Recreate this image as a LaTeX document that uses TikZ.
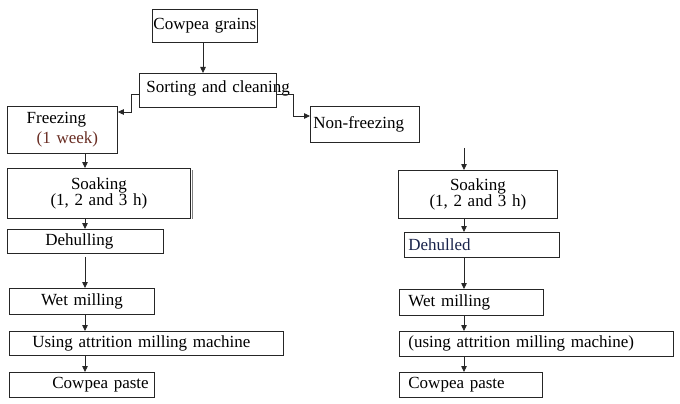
\documentclass[tikz,border=0pt]{standalone}
\usepackage{fontspec}
\setmainfont{Liberation Serif}
\usetikzlibrary{arrows.meta}

\definecolor{weekbrown}{RGB}{105,45,35}
\definecolor{navytext}{RGB}{25,35,75}

\tikzset{
  box/.style={draw=black!85, line width=0.8pt, anchor=north west,
    inner xsep=0pt, inner ysep=0pt, align=center,
    font=\fontsize{17}{16}\selectfont},
  lbox/.style={box, align=left},
  arr/.style={draw=black!85, line width=0.8pt, -{Triangle[length=6pt,width=5.5pt]}}
}

\begin{document}
\begin{tikzpicture}[x=1pt,y=-1pt]
        \useasboundingbox (0,0) rectangle (680,404);

        \node[box, text width=105pt, minimum height=33pt] (grains) at (152,9) {Cowpea grains};
        \node[lbox, text width=137pt, minimum height=34pt] (sort) at (139,73) {\raisebox{7pt}{\hspace*{7pt}Sorting and cleaning}};

        % left line
        \node[box, text width=110pt, minimum height=47pt] (freeze) at (7,106) {\hspace*{-12pt}Freezing\\[4pt]\color{weekbrown}\hspace*{10pt}(1 week)};
        \node[box, text width=183pt, minimum height=50pt] (soakL) at (7,168) {Soaking\\(1, 2 and 3 h)};
        \node[box, text width=156pt, minimum height=24pt] (dehL) at (7,229) {\hspace*{-12pt}Dehulling};
        \node[box, text width=145pt, minimum height=26pt] (wetL) at (9,288) {Wet milling};
        \node[box, text width=274pt, minimum height=24pt] (useL) at (9,331) {\hspace*{-10pt}Using attrition milling machine};
        \node[lbox, text width=145pt, minimum height=25pt] (pasteL) at (9,372) {\hspace*{43pt}Cowpea paste};
        \draw[gray, line width=0.8pt] ([xshift=2pt,yshift=-2pt]soakL.north east) -- ([xshift=2pt]soakL.south east);

        % right line
        \node[lbox, text width=109pt, minimum height=36pt] (nonfr) at (310,106) {\hspace*{3pt}Non-freezing};
        \node[box, text width=159pt, minimum height=48pt] (soakR) at (398,170) {Soaking\\(1, 2 and 3 h)};
        \node[lbox, text width=155pt, minimum height=25pt] (dehR) at (404,232) {\hspace*{4pt}\color{navytext}Dehulled};
        \node[lbox, text width=144pt, minimum height=26pt] (wetR) at (399,289) {\hspace*{9pt}Wet milling};
        \node[lbox, text width=274pt, minimum height=25pt] (useR) at (399,331) {\hspace*{9pt}(using attrition milling machine)};
        \node[lbox, text width=143pt, minimum height=25pt] (pasteR) at (399,372) {\hspace*{9pt}Cowpea paste};

        \coordinate (lx) at (85,0);
        \coordinate (rx) at (464,0);

        % arrows
        \draw[arr] (grains.south -| 203,0) -- (sort.north -| 203,0);
        \draw[arr] ([yshift=-4pt]sort.west) -- ++(-8,0) |- ([yshift=-6pt]freeze.north east);
        \draw[arr] ([yshift=-4pt]sort.east) -- ++(17,0) |- ([yshift=-10pt]nonfr.north west);

        \draw[arr] (freeze.south -| lx) -- (soakL.north -| lx);
        \draw[arr] (soakL.south -| lx) -- (dehL.north -| lx);
        \draw[arr] ([yshift=-3pt]dehL.south -| lx) -- (wetL.north -| lx);
        \draw[arr] (wetL.south -| lx) -- (useL.north -| lx);
        \draw[arr] (useL.south -| lx) -- (pasteL.north -| lx);

        \draw[arr] ([yshift=-5pt]nonfr.south -| rx) -- (soakR.north -| rx);
        \draw[arr] (soakR.south -| rx) -- (dehR.north -| rx);
        \draw[arr] (dehR.south -| rx) -- (wetR.north -| rx);
        \draw[arr] (wetR.south -| rx) -- (useR.north -| rx);
        \draw[arr] (useR.south -| rx) -- (pasteR.north -| rx);
\end{tikzpicture}
\end{document}
